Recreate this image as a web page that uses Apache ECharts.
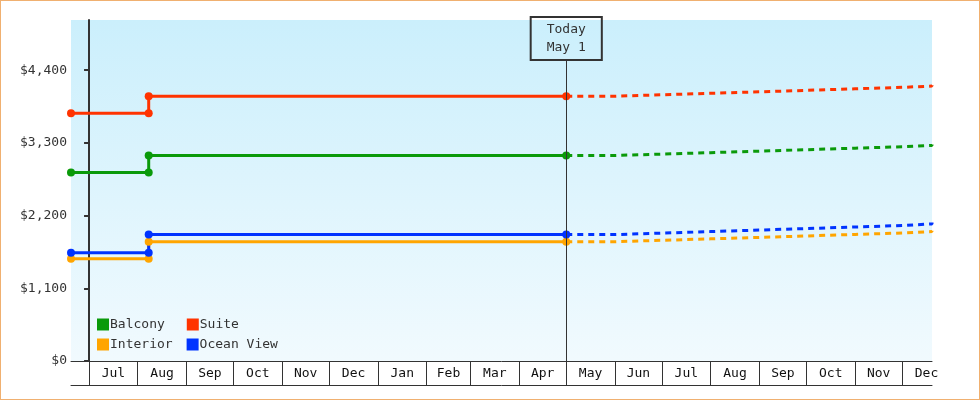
<!DOCTYPE html>
<html><head><meta charset="utf-8">
<script src="https://cdn.jsdelivr.net/npm/echarts@6/dist/echarts.min.js"></script>
<style>html,body{margin:0;padding:0;background:#fff}#c{width:978px;height:398px;border:1px solid #f0b070}</style>
</head><body><div id="c"></div>
<script>
// x values: days since Jul 1 (first year)
var monthNames = ['Jul','Aug','Sep','Oct','Nov','Dec','Jan','Feb','Mar','Apr','May','Jun','Jul','Aug','Sep','Oct','Nov','Dec'];
var monthStarts = [0,31,62,92,123,153,184,215,243,274,304,335,365,396,427,457,488,518,549];
var xMin = -11.5, xMax = 537, today = 304;
var yTicks = [0,1100,2200,3300,4400];
var seriesNames = ['Balcony','Suite','Interior','Ocean View'];
var colors = ['#0a9a0a','#ff3300','#ffa500','#0033ff'];
var histX = [-11.5, 38, 38, 304];
var histVals = {
  'Balcony':    [2852, 2852, 3110, 3110],
  'Suite':      [3748, 3748, 4006, 4006],
  'Interior':   [1548, 1548, 1805, 1805],
  'Ocean View': [1639, 1639, 1912, 1912]
};
var fcX = [304, 335, 365, 396, 427, 457, 488, 518, 537];
var fcVals = {
  'Balcony':    [3110, 3130, 3152, 3175, 3197, 3220, 3242, 3262, 3277],
  'Suite':      [4006, 4028, 4050, 4072, 4095, 4118, 4140, 4160, 4172],
  'Interior':   [1805, 1826, 1848, 1870, 1892, 1915, 1936, 1958, 1972],
  'Ocean View': [1912, 1935, 1958, 1981, 2004, 2027, 2050, 2074, 2094]
};
var font = 'DejaVu Sans Mono';
var mids = [];
for (var i=0;i<monthNames.length;i++) mids.push((monthStarts[i]+monthStarts[i+1])/2);
var series = [];
seriesNames.forEach(function(n,i){
  series.push({name:n,type:'line',data:histX.map(function(x,j){return [x,histVals[n][j]];}),
    color:colors[i],lineStyle:{width:3},symbol:'circle',symbolSize:8,z:3});
  series.push({name:n,type:'line',data:fcX.map(function(x,j){return [x,fcVals[n][j]];}),
    color:colors[i],lineStyle:{width:3,type:[6,5]},showSymbol:false,step:'end',z:2});
});
series[1].markLine = {silent:true,symbol:'none',
  lineStyle:{color:'#333',width:1,type:'solid'},
  label:{show:true,position:'end',formatter:'Today\nMay 1',fontFamily:font,fontSize:13,color:'#333',
    borderColor:'#333',borderWidth:1,padding:[4,16,3,16],lineHeight:18,distance:0,backgroundColor:'rgba(205,240,252,0)'},
  data:[[{coord:[today,0]},{coord:[today,4552]}]]};
var chart = echarts.init(document.getElementById('c'));
chart.setOption({
  animation:false,
  textStyle:{fontFamily:font},
  grid:{left:70,right:47,top:19,bottom:38,show:true,borderWidth:0,
    backgroundColor:{type:'linear',x:0,y:0,x2:0,y2:1,colorStops:[{offset:0,color:'#cbeffc'},{offset:1,color:'#f1fafe'}]}},
  legend:[
    {data:['Balcony','Suite'],left:91,top:312,itemWidth:12,itemHeight:12,itemGap:22,icon:'rect',
      textStyle:{fontFamily:font,fontSize:13,color:'#333',padding:[0,0,0,-4]}},
    {data:['Interior','Ocean View'],left:91,top:332,itemWidth:12,itemHeight:12,itemGap:14,icon:'rect',
      textStyle:{fontFamily:font,fontSize:13,color:'#333',padding:[0,0,0,-4]}}
  ],
  xAxis:[
    {type:'value',min:xMin,max:xMax,
      axisLine:{lineStyle:{color:'#333',width:1}},
      axisTick:{show:true,length:24,customValues:monthStarts.slice(0,18),lineStyle:{color:'#333'}},
      axisLabel:{customValues:mids,margin:6,fontFamily:font,fontSize:13,color:'#111',
        formatter:function(v){var k=mids.indexOf(v);return k>=0?monthNames[k]:'';}},
      splitLine:{show:false}},
    {type:'value',min:xMin,max:xMax,position:'bottom',offset:24,
      axisLine:{lineStyle:{color:'#333'}},axisTick:{show:false},axisLabel:{show:false},splitLine:{show:false}}
  ],
  yAxis:{type:'value',min:0,max:5159,interval:1100,
    axisLine:{show:true,lineStyle:{color:'#333',width:2}},
    axisTick:{show:true,length:5,customValues:yTicks,lineStyle:{color:'#333',width:2}},
    axisLabel:{customValues:yTicks,fontFamily:font,fontSize:13,color:'#333',margin:4,
      formatter:function(v){return '$'+v.toLocaleString('en-US');}},
    splitLine:{show:false}},
  series:series
});
</script></body></html>
